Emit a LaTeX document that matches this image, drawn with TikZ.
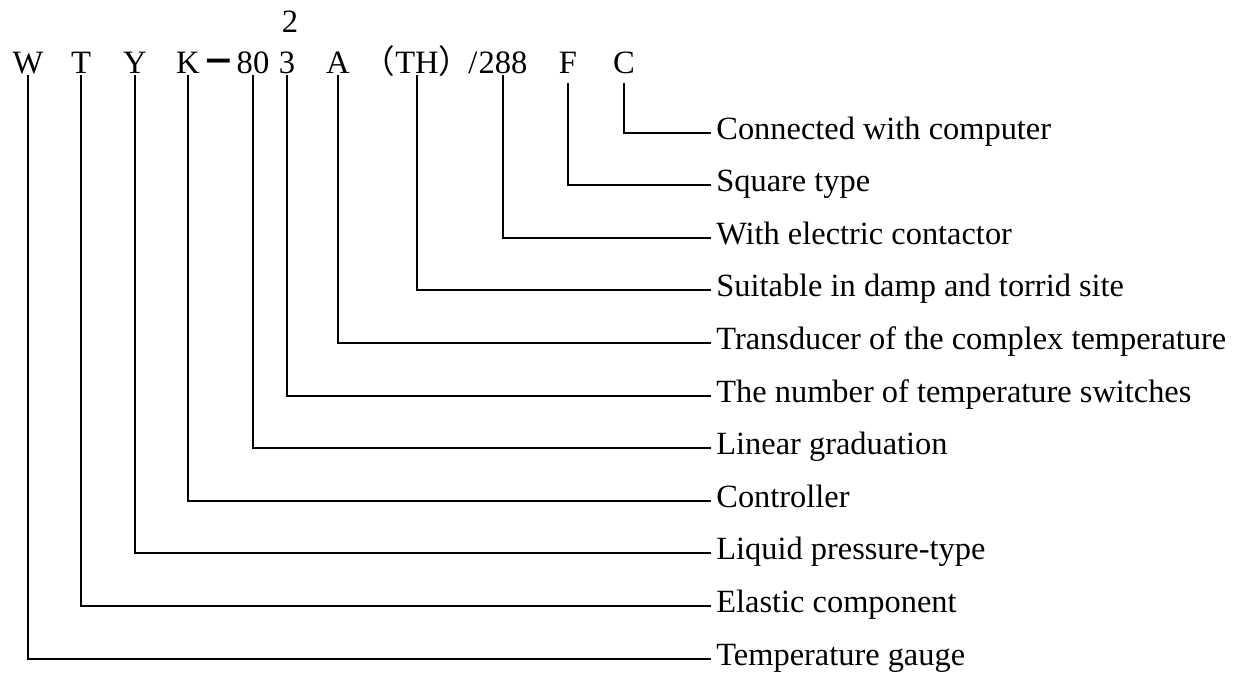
\documentclass[tikz,border=0pt]{standalone}
\usepackage{fontspec}
\setmainfont{Liberation Serif}
\newfontfamily\cjk{Noto Sans CJK SC}
\usepackage{tikz}
\usetikzlibrary{positioning}

\begin{document}
\begin{tikzpicture}[
  x=0.5pt,y=-0.5pt,
  code/.style={anchor=base,inner xsep=0pt,inner ysep=1pt,text depth=0pt,
               font=\fontsize{16.3pt}{19pt}\selectfont},
  expl/.style={anchor=west,inner xsep=2.5pt,inner ysep=0pt,
               text height=0.66em,text depth=0pt,
               font=\fontsize{16.2pt}{19pt}\selectfont},
  lead/.style={line width=1pt,line join=miter}
]
\useasboundingbox (0,0) rectangle (1238,682);
% model code
\node[code] (cW) at (28,73) {W};
\node[code] (cT) at (81,73) {T};
\node[code] (cY) at (135,73) {Y};
\node[code] (cK) at (188,73) {K};
\node[code] (cdash) at (219,73) {\cjk\bfseries －};
\node[code] (c80) at (253,73) {80};
\node[code] (c3) at (287,73) {3};
\node[code] (c2) at (290,32) {2};
\node[code] (cA) at (338,73) {A};
\node[code] (cTH) at (417,73) {{\cjk （}TH{\cjk ）}};
\node[code] (cslash) at (473,73) {/};
\node[code] (c288) at (503,73) {288};
\node[code] (cF) at (568,73) {F};
\node[code] (cC) at (624,73) {C};
% meanings
\node[expl] (eC) at (711,132.5) {Connected with computer};
\node[expl] (eF) at (711,185.1) {Square type};
\node[expl] (e288) at (711,237.7) {With electric contactor};
\node[expl] (eTH) at (711,290.3) {Suitable in damp and torrid site};
\node[expl] (eA) at (711,342.9) {Transducer of the complex temperature};
\node[expl] (e3) at (711,395.5) {The number of temperature switches};
\node[expl] (e80) at (711,448.1) {Linear graduation};
\node[expl] (eK) at (711,500.7) {Controller};
\node[expl] (eY) at (711,553.3) {Liquid pressure-type};
\node[expl] (eT) at (711,605.9) {Elastic component};
\node[expl] (eW) at (711,658.5) {Temperature gauge};
% leaders
\draw[lead,shorten <=4pt] (cC.south) |- (eC.west);
\draw[lead,shorten <=4pt] (cF.south) |- (eF.west);
\draw[lead] (c288.south) |- (e288.west);
\draw[lead] (cTH.south) |- (eTH.west);
\draw[lead] (cA.south) |- (eA.west);
\draw[lead] (c3.south) |- (e3.west);
\draw[lead] (c80.south) |- (e80.west);
\draw[lead] (cK.south) |- (eK.west);
\draw[lead] (cY.south) |- (eY.west);
\draw[lead] (cT.south) |- (eT.west);
\draw[lead] (cW.south) |- (eW.west);
\end{tikzpicture}
\end{document}
